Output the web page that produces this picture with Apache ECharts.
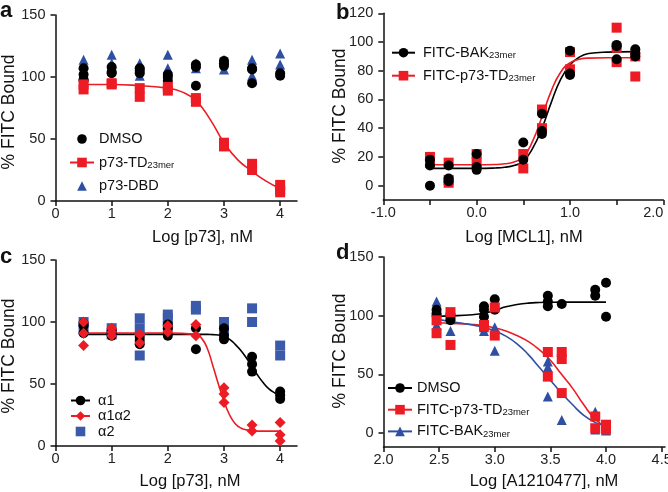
<!DOCTYPE html>
<html><head><meta charset="utf-8">
<script src="https://cdn.jsdelivr.net/npm/echarts@6/dist/echarts.min.js"></script>
<style>html,body{margin:0;padding:0;background:#fff}#c{width:668px;height:492px}</style>
</head><body><div id="c"></div>
<script>
// ---------- Panel a ----------
const aX = [0.5, 1, 1.5, 2, 2.5, 3, 3.5, 4];
const aDMSO = [[107,102,98,97],[108,104,103],[107,105,103],[102,100,97],[110,108,93],[113,111,109],[107,106,95],[103,101]];
const aTD = [[94,90],[95,94],[91,84],[92,89],[83,80],[47,44],[30,25],[13,9,7]];
const aDBD = [[114,110],[118,111],[111,101],[118,107],[111,107],[114,106],[114,101],[119,110]];
const aFitX = [0.5, 1, 1.5, 2, 2.25, 2.5, 2.75, 3, 3.25, 3.5, 3.75, 4];
const aFitTD = [94, 94, 93, 91, 88, 81, 66, 47, 33, 24, 16, 10];
const aXTicks = [0, 1, 2, 3, 4];
const aYTicks = [0, 50, 100, 150];

// ---------- Panel b ----------
const bX = [-0.5, -0.3, 0, 0.5, 0.7, 1, 1.5, 1.7];
const bBAK = [[18,14,0],[14,5,3],[22,13,11],[30,18],[50,38,36],[94,78,77],[98,97,88],[95,92,90]];
const bTD = [[20,16],[16,4,2],[22,16],[22,12],[53,40],[93,81],[110,96,86],[90,76]];
const bFitX = [-0.5, 0, 0.2, 0.3, 0.4, 0.5, 0.6, 0.7, 0.8, 0.9, 1.0, 1.1, 1.2, 1.4, 1.7];
const bFitBAK = [12, 12, 12.3, 12.8, 14, 17, 26, 40, 58, 74, 84, 89.5, 92, 93, 93.3];
const bFitTD = [14.5, 14.5, 14.7, 15.2, 16.5, 20, 31, 48, 66, 79, 85.5, 88, 88.8, 89, 89];
const bXTicks = [-1, 0, 1, 2];
const bXMinor = [-1, -0.5, 0, 0.5, 1, 1.5, 2];
const bYTicks = [0, 20, 40, 60, 80, 100, 120];

// ---------- Panel c ----------
const cX = [0.5, 1, 1.5, 2, 2.5, 3, 3.5, 4];
const cA1 = [[99,97,91],[93,91,89],[88,85,82],[98,95,89],[95,78],[95,89,86],[72,66,60],[44,41,38]];
const cA1A2 = [[100,91,81],[95,92,89],[90,83],[97,92],[98,89],[47,42,35],[17,12],[19,9,4]];
const cA2 = [[100,94],[95,90],[103,95,73],[106,103,97],[113,110],[100,93],[111,100],[81,73]];
const cFitX = [0.5, 1, 1.5, 2, 2.5, 2.6, 2.7, 2.8, 2.9, 3.0, 3.1, 3.2, 3.3, 3.4, 3.5, 3.6, 3.7, 3.8, 3.9, 4.0];
const cFitA1 = [90, 90, 90, 90, 90, 90, 90, 89.8, 89.5, 88.5, 86, 82, 77, 71, 64, 57, 51, 46, 43, 41];
const cFitA1A2 = [91, 91, 91, 91, 90, 87, 79, 65, 50, 36, 25, 18, 14.5, 13, 12.5, 12, 12, 12, 12, 12];

// ---------- Panel d ----------
const dX = [2.477, 2.602, 2.903, 3.0, 3.477, 3.602, 3.903, 4.0];
const dDMSO = [[105,102,100],[101,98,96],[108,105,99],[114,105],[117,112,108],[110],[122,117],[128,99]];
const dTD = [[96,85],[103,75],[92,91],[107,83],[69,48],[69,63,34],[14,4],[7,3]];
const dBAK = [[112,92],[97,87],[90,87],[90,70],[61,56,31],[11],[18,3],[2]];
const dFitX = [2.477, 2.6, 2.8, 2.9, 3.0, 3.1, 3.2, 3.3, 3.4, 3.5, 3.6, 3.7, 3.8, 3.9, 4.0];
const dFitDMSO = [99.5, 99.8, 100.8, 102, 104.5, 107.5, 109.5, 110.7, 111.2, 111.4, 111.5, 111.5, 111.5, 111.5, 111.5];
const dFitTD = [94, 93.5, 92.5, 91.5, 89.5, 87, 83, 78, 71, 62, 50, 38, 24, 12, 5];
const dFitBAK = [97, 95, 92, 90, 87, 82.5, 76, 67, 56, 45, 34, 24, 15, 9, 6];
const dXTicks = [2.0, 2.5, 3.0, 3.5, 4.0, 4.5];
const dYTicks = [0, 50, 100, 150];

const RED = '#ed1c24', BLUE = '#2f4fa2', BLUE2 = '#3b5baa', BLACK = '#000';
const FONT = 'Liberation Sans, Arial, Helvetica, sans-serif';

function pts(xs, groups) { const o = []; xs.forEach((x, i) => groups[i].forEach(v => o.push([x, v]))); return o; }
function curve(xs, ys) { return xs.map((x, i) => [x, ys[i]]); }

function xAxis(grid, min, max, ticks, fmt, tickVals, alignMax) {
  return {
    type: 'value', gridIndex: grid, min: min, max: max,
    axisLine: { show: true, onZero: false, lineStyle: { color: '#111', width: 1.5 } },
    axisTick: { show: true, length: 5, customValues: tickVals || ticks, lineStyle: { color: '#111', width: 1.5 } },
    axisLabel: { customValues: ticks, formatter: fmt, color: '#222', fontSize: 14.5, fontFamily: FONT, margin: 5,
      alignMaxLabel: alignMax || null },
    splitLine: { show: false }
  };
}
function yAxis(grid, min, max, ticks) {
  return {
    type: 'value', gridIndex: grid, min: min, max: max,
    axisLine: { show: true, onZero: false, lineStyle: { color: '#111', width: 1.5 } },
    axisTick: { show: true, length: 5, customValues: ticks, lineStyle: { color: '#111', width: 1.5 } },
    axisLabel: { customValues: ticks, color: '#222', fontSize: 14.5, fontFamily: FONT, margin: 10 },
    splitLine: { show: false }
  };
}
function fitLine(name, ax, data, color, symbol) {
  return { type: 'line', name: name, xAxisIndex: ax, yAxisIndex: ax, data: data, smooth: 0.5,
    showSymbol: false, symbol: symbol, symbolSize: 10, lineStyle: { color: color, width: 1.6 }, itemStyle: { color: color }, z: 2, silent: true };
}
// legend-only helper: gives scatter-only groups a plain symbol icon (no line)
function iconOnly(name, ax, color, symbol) {
  return { type: 'line', name: name, xAxisIndex: ax, yAxisIndex: ax, data: [], showSymbol: false, symbol: symbol,
    lineStyle: { color: color, width: 0, opacity: 0 }, itemStyle: { color: color }, silent: true };
}
function scat(name, ax, data, color, symbol, size) {
  return { type: 'scatter', name: name, xAxisIndex: ax, yAxisIndex: ax, data: data, symbol: symbol, symbolSize: size,
    itemStyle: { color: color, opacity: 1 }, z: 3 };
}

const labels = {
  aDMSO: 'DMSO', aTD: '{t|p73-TD}{s|23mer}', aDBD: 'p73-DBD',
  bBAK: '{t|FITC-BAK}{s|23mer}', bTD: '{t|FITC-p73-TD}{s|23mer}',
  cA1: '\u03b11', cA1A2: '\u03b11\u03b12', cA2: '\u03b12',
  dDMSO: 'DMSO', dTD: '{t|FITC-p73-TD}{s|23mer}', dBAK: '{t|FITC-BAK}{s|23mer}'
};
const noLine = { aDMSO: 1, aDBD: 1, cA2: 1 };
const rich = { t: { fontSize: 14.5, fontFamily: FONT, color: '#111', lineHeight: 16 },
               s: { fontSize: 9.5, fontFamily: FONT, color: '#111', lineHeight: 9, verticalAlign: 'bottom' } };
function legend(names, left, top, itemWidth, gap, lh, pad) {
  return { orient: 'vertical', left: left, top: top, itemWidth: itemWidth, itemHeight: 12, itemGap: gap,
    selectedMode: false, padding: 0,
    data: names.map(n => noLine[n] ? { name: n, lineStyle: { opacity: 0, width: 0 } } : { name: n }),
    formatter: n => labels[n],
    textStyle: { fontSize: 14.5, fontFamily: FONT, color: '#111', lineHeight: lh, rich: rich, padding: [0, 0, 0, pad] } };
}
function txt(x, y, s, size, bold, rot) {
  return { type: 'text', x: x, y: y, rotation: rot || 0, silent: true,
    style: { text: s, fill: '#111', font: (bold ? 'bold ' : '') + size + 'px ' + FONT, textAlign: rot ? 'center' : (bold ? 'left' : 'center'), textVerticalAlign: 'middle' } };
}

const chart = echarts.init(document.getElementById('c'), null, { renderer: 'canvas' });
chart.setOption({
  animation: false,
  backgroundColor: '#fff',
  grid: [
    { left: 55.5, top: 15, width: 241.5, height: 186, outerBoundsMode: 'none' },
    { left: 383.3, top: 13.3, width: 280, height: 186.7, outerBoundsMode: 'none' },
    { left: 55.5, top: 260, width: 241.5, height: 186, outerBoundsMode: 'none' },
    { left: 383.5, top: 257, width: 281.5, height: 190, outerBoundsMode: 'none' }
  ],
  xAxis: [
    xAxis(0, 0, 4.3, aXTicks, v => String(v)),
    xAxis(1, -1, 2, bXTicks, v => v.toFixed(1), bXMinor, 'right'),
    xAxis(2, 0, 4.3, aXTicks, v => String(v)),
    xAxis(3, 2.0, 4.53, dXTicks, v => v.toFixed(1))
  ],
  yAxis: [
    yAxis(0, 0, 150, aYTicks),
    yAxis(1, -10, 120, bYTicks),
    yAxis(2, 0, 150, aYTicks),
    yAxis(3, -12, 150, dYTicks)
  ],
  legend: [
    legend(['aDMSO', 'aTD', 'aDBD'], 69, 131, 24, 7.5, 16, 0),
    legend(['bBAK', 'bTD'], 391, 44.7, 23, 7, 16, 3),
    legend(['cA1', 'cA1A2', 'cA2'], 70, 393, 19, 0.5, 14, 3),
    legend(['dDMSO', 'dTD', 'dBAK'], 387, 380, 24, 5.7, 16, 0)
  ],
  series: [
    iconOnly('aDMSO', 0, BLACK, 'circle'),
    iconOnly('aDBD', 0, BLUE, 'triangle'),
    fitLine('aTD', 0, curve(aFitX, aFitTD), RED, 'rect'),
    scat('aDBD', 0, pts(aX, aDBD), BLUE, 'triangle', 10),
    scat('aDMSO', 0, pts(aX, aDMSO), BLACK, 'circle', 10),
    scat('aTD', 0, pts(aX, aTD), RED, 'rect', 10),

    fitLine('bBAK', 1, curve(bFitX, bFitBAK), BLACK, 'circle'),
    fitLine('bTD', 1, curve(bFitX, bFitTD), RED, 'rect'),
    scat('bTD', 1, pts(bX, bTD), RED, 'rect', 10),
    scat('bBAK', 1, pts(bX, bBAK), BLACK, 'circle', 10),

    iconOnly('cA2', 2, BLUE2, 'rect'),
    fitLine('cA1', 2, curve(cFitX, cFitA1), BLACK, 'circle'),
    fitLine('cA1A2', 2, curve(cFitX, cFitA1A2), RED, 'diamond'),
    scat('cA2', 2, pts(cX, cA2), BLUE2, 'rect', 10),
    scat('cA1', 2, pts(cX, cA1), BLACK, 'circle', 10),
    scat('cA1A2', 2, pts(cX, cA1A2), RED, 'diamond', 11),

    fitLine('dDMSO', 3, curve(dFitX, dFitDMSO), BLACK, 'circle'),
    fitLine('dTD', 3, curve(dFitX, dFitTD), RED, 'rect'),
    fitLine('dBAK', 3, curve(dFitX, dFitBAK), BLUE, 'triangle'),
    scat('dBAK', 3, pts(dX, dBAK), BLUE, 'triangle', 10),
    scat('dDMSO', 3, pts(dX, dDMSO), BLACK, 'circle', 10),
    scat('dTD', 3, pts(dX, dTD), RED, 'rect', 10)
  ],
  graphic: [
    txt(0, 10.5, 'a', 22, true),
    txt(336, 12.5, 'b', 22, true),
    txt(0, 256.8, 'c', 22, true),
    txt(336, 252.5, 'd', 22, true),
    txt(202.5, 237, 'Log [p73], nM', 16.5),
    txt(524, 237, 'Log [MCL1], nM', 16.5),
    txt(190, 481, 'Log [p73], nM', 16.5),
    txt(544, 481, 'Log [A1210477], nM', 16.5),
    txt(9.5, 112, '% FITC Bound', 17.5, false, Math.PI / 2),
    txt(340, 106, '% FITC Bound', 17.5, false, Math.PI / 2),
    txt(9.5, 356, '% FITC Bound', 17.5, false, Math.PI / 2),
    txt(340, 351, '% FITC Bound', 17.5, false, Math.PI / 2)
  ]
});
</script></body></html>
